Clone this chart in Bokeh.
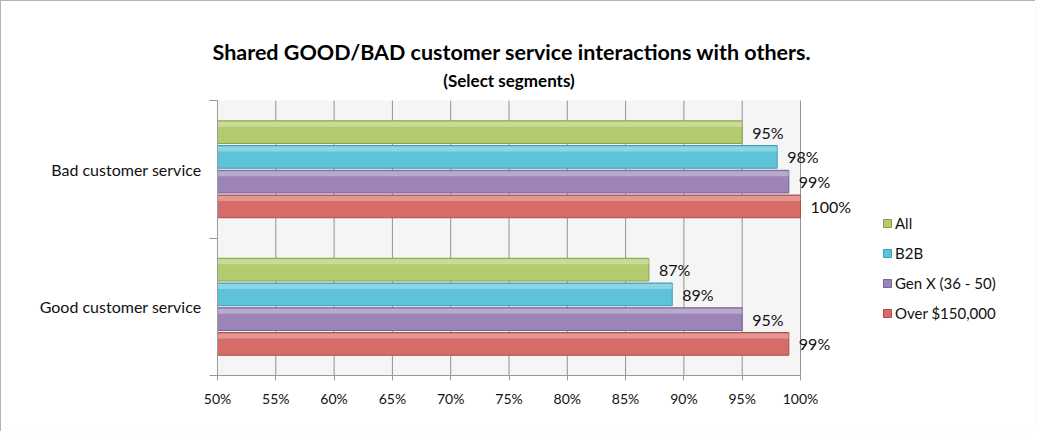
from bokeh.plotting import figure
from bokeh.models import (Range1d, FixedTicker, Label, LabelSet, Legend, LegendItem,
                          ColumnDataSource, LinearAxis, Title)
from bokeh.core.properties import value
from bokeh.embed import file_html
from bokeh.resources import INLINE

# ---------------- data ----------------
categories = ["Good customer service", "Bad customer service"]   # bottom -> top
series_names = ["All", "B2B", "Gen X (36 - 50)", "Over $150,000"]
all_vals = [87, 95]
b2b_vals = [89, 98]
genx_vals = [95, 99]
over_vals = [99, 100]
x_ticks = [50, 55, 60, 65, 70, 75, 80, 85, 90, 95, 100]
x_tick_labels = ["50%", "55%", "60%", "65%", "70%", "75%", "80%", "85%", "90%", "95%", "100%"]
title_text = "Shared GOOD/BAD customer service interactions with others."
subtitle_text = "(Select segments)"

# ---------------- styles / layout ----------------
FONT = "Lato"
fill_colors = ["#b3ca6f", "#5cc3d8", "#9c84b9", "#d56c68"]
line_colors = ["#8ca04c", "#3f9db3", "#7a6297", "#a94f4c"]
offsets = [0.27, 0.09, -0.09, -0.27]
bar_h = 0.165

FIG_W = 1034
TOP = 99                         # px from figure top to the top of the plot area
EXTRA = 34                       # part of that space kept inside the frame (subtitle)
LEFT, BOTTOM = 216, 56
PLOT_W, PLOT_H = 583, 275        # pixel size of the 50..100 x -0.5..1.5 area
frame_w = FIG_W - LEFT
frame_h = PLOT_H + EXTRA
x0, x1 = x_ticks[0], x_ticks[-1]
y0, y1 = -0.5, len(categories) - 0.5
x_end = x0 + (x1 - x0) * frame_w / PLOT_W
y_end = y0 + (y1 - y0) * frame_h / PLOT_H

series_vals = [all_vals, b2b_vals, genx_vals, over_vals]

p = figure(frame_width=frame_w, frame_height=frame_h,
           min_border_left=LEFT, min_border_right=0,
           min_border_top=TOP - EXTRA, min_border_bottom=BOTTOM,
           x_range=Range1d(x0, x_end), y_range=Range1d(y0, y_end),
           output_backend="svg", toolbar_location=None)
p.styles = {"border-top": "1px solid #b4b4b4", "border-left": "1px solid #b4b4b4",
            "box-shadow": "-2px -2px 4px rgba(0,0,0,0.12)"}
p.background_fill_color = "white"
p.border_fill_color = "white"
p.outline_line_color = None
p.xgrid.grid_line_color = None
p.ygrid.grid_line_color = None

# main title (above panel, may extend left of the plot area)
p.add_layout(Title(text=title_text, align="left", offset=-5, standoff=3,
                   text_font=FONT, text_font_size="21.5px", text_font_style="bold",
                   text_color="#000000"), "above")
# subtitle, centred over the 50..100 area
p.add_layout(Label(x=(x0 + x1) / 2, y=y1, text=subtitle_text, y_offset=20,
                   text_align="center", text_baseline="middle",
                   text_font=FONT, text_font_size="17px", text_font_style="bold",
                   text_color="#000000"))

# plot-area background and vertical grid lines
p.quad(left=[x0], right=[x1], bottom=[y0], top=[y1],
       fill_color="#f5f5f5", line_color=None)
p.segment(x0=x_ticks, y0=[y0] * len(x_ticks), x1=x_ticks, y1=[y1] * len(x_ticks),
          line_color="#939393", line_width=1)

# x axis
p.xaxis.bounds = (x0, x1)
p.xaxis.ticker = FixedTicker(ticks=x_ticks)
p.xaxis.major_label_overrides = dict(zip(x_ticks, x_tick_labels))
p.xaxis.major_label_text_font = FONT
p.xaxis.major_label_text_font_size = "14px"
p.xaxis.major_label_text_color = "#111111"
p.xaxis.major_tick_out = 5
p.xaxis.major_tick_in = 0
p.xaxis.minor_tick_line_color = None
p.xaxis.axis_line_color = "#9a9a9a"
p.xaxis.major_tick_line_color = "#9a9a9a"
p.xaxis.major_label_standoff = 9

# y axis: boundary ticks only
bounds_ticks = [y0 + k for k in range(len(categories) + 1)]
p.yaxis.bounds = (y0, y1)
p.yaxis.ticker = FixedTicker(ticks=bounds_ticks)
p.yaxis.major_label_overrides = {t: "" for t in bounds_ticks}
p.yaxis.major_label_standoff = 0
p.yaxis.major_tick_out = 8
p.yaxis.major_tick_in = 0
p.yaxis.minor_tick_line_color = None
p.yaxis.axis_line_color = "#9a9a9a"
p.yaxis.major_tick_line_color = "#9a9a9a"

# second left axis carrying the category names
cat_axis = LinearAxis(ticker=FixedTicker(ticks=list(range(len(categories)))),
                      major_label_overrides={k: c for k, c in enumerate(categories)},
                      axis_line_color=None, major_tick_line_color=None,
                      minor_tick_line_color=None, major_tick_out=0, major_tick_in=0,
                      major_label_standoff=8,
                      major_label_text_font=FONT, major_label_text_font_size="16px",
                      major_label_text_color="#111111")
p.add_layout(cat_axis, "left")

# bars
items = []
label_x, label_y, label_t = [], [], []
for i, (name, vals) in enumerate(zip(series_names, series_vals)):
    ys = [c + offsets[i] for c in range(len(categories))]
    src = ColumnDataSource(dict(y=ys, right=vals, left=[x0] * len(vals)))
    r = p.hbar(y="y", left="left", right="right", height=bar_h, source=src,
               fill_color=fill_colors[i], line_color=line_colors[i], line_width=1)
    hy = [y + bar_h / 2 - 0.025 for y in ys]
    hsrc = ColumnDataSource(dict(y=hy, right=vals, left=[x0] * len(vals)))
    p.hbar(y="y", left="left", right="right", height=0.035, source=hsrc,
           fill_color="white", fill_alpha=0.3, line_color=None)
    items.append(LegendItem(label=name, renderers=[r]))
    label_x += vals
    label_y += ys
    label_t += ["%d%%" % v for v in vals]

lsrc = ColumnDataSource(dict(x=label_x, y=label_y, t=label_t))
p.add_layout(LabelSet(x="x", y="y", text="t", source=lsrc, x_offset=10,
                      text_baseline="middle", text_align="left",
                      text_font=value(FONT), text_font_size=value("16px"),
                      text_color="#111111"))

legend = Legend(items=items, location=(665, 52), orientation="vertical",
                glyph_width=10, glyph_height=10, label_height=20, spacing=10,
                label_standoff=3, padding=0, margin=0,
                label_text_font=FONT, label_text_font_size="15px",
                label_text_color="#111111",
                border_line_color=None, background_fill_alpha=0)
p.add_layout(legend, "center")

open("out.html", "w").write(file_html(p, INLINE))
